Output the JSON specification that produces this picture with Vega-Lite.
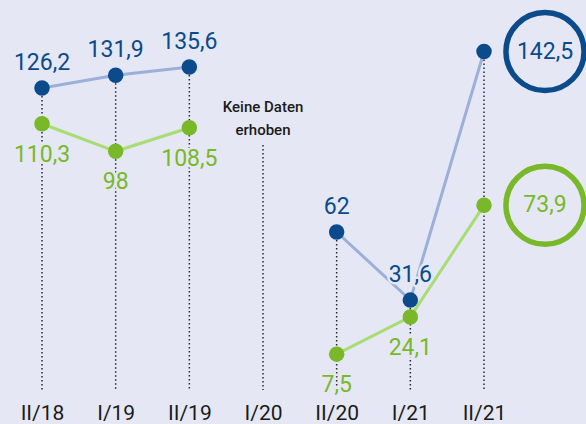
{
  "$schema": "https://vega.github.io/schema/vega-lite/v6.json",
  "width": 586,
  "height": 390,
  "autosize": "none",
  "padding": {"top": 0, "left": 0, "right": 0, "bottom": 34},
  "background": "#e5e8f4",
  "config": {"view": {"stroke": null}, "font": "Roboto"},
  "datasets": {
    "pts": [
      {"q": "II/18", "s": "blue", "seg": "a", "v": 126.2, "lab": "126,2"},
      {"q": "I/19", "s": "blue", "seg": "a", "v": 131.9, "lab": "131,9"},
      {"q": "II/19", "s": "blue", "seg": "a", "v": 135.6, "lab": "135,6"},
      {"q": "II/20", "s": "blue", "seg": "b", "v": 62, "lab": "62"},
      {"q": "I/21", "s": "blue", "seg": "b", "v": 31.6, "lab": "31,6"},
      {"q": "II/21", "s": "blue", "seg": "b", "v": 142.5, "lab": ""},
      {"q": "II/18", "s": "green", "seg": "a", "v": 110.3, "lab": "110,3"},
      {"q": "I/19", "s": "green", "seg": "a", "v": 98, "lab": "98"},
      {"q": "II/19", "s": "green", "seg": "a", "v": 108.5, "lab": "108,5"},
      {"q": "II/20", "s": "green", "seg": "b", "v": 7.5, "lab": "7,5"},
      {"q": "I/21", "s": "green", "seg": "b", "v": 24.1, "lab": "24,1"},
      {"q": "II/21", "s": "green", "seg": "b", "v": 73.9, "lab": ""}
    ],
    "rules": [
      {"q": "II/18", "top": 126.2},
      {"q": "I/19", "top": 131.9},
      {"q": "II/19", "top": 135.6},
      {"q": "I/20", "top": 100.8},
      {"q": "II/20", "top": 62},
      {"q": "I/21", "top": 31.6},
      {"q": "II/21", "top": 142.5}
    ],
    "rings": [
      {"q": "II/21", "s": "blue", "v": 142.5, "lab": "142,5"},
      {"q": "II/21", "s": "green", "v": 73.9, "lab": "73,9"}
    ],
    "note": [
      {"q": "I/20", "v": 100.8, "lab": ["Keine Daten", "erhoben"]}
    ]
  },
  "encoding": {
    "x": {
      "field": "q",
      "type": "ordinal",
      "scale": {"type": "point", "padding": 0, "domain": ["II/18", "I/19", "II/19", "I/20", "II/20", "I/21", "II/21"], "range": [42, 484]},
      "axis": {"domain": false, "ticks": false, "grid": false, "title": null, "labelFontSize": 21, "labelColor": "#1a1a1a", "labelPadding": 12, "labelFont": "Roboto", "labelAngle": 0}
    }
  },
  "layer": [
    {
      "data": {"name": "rules"},
      "mark": {"type": "rule", "color": "#2a2a2a", "strokeWidth": 1.5, "strokeDash": [1.5, 2.5]},
      "encoding": {
        "y": {"field": "top", "type": "quantitative", "scale": {"domain": [-8.5, 165.5], "nice": false, "zero": false}, "axis": null},
        "y2": {"datum": -8.5}
      }
    },
    {
      "data": {"name": "pts"},
      "transform": [{"filter": "datum.s === 'blue'"}],
      "mark": {"type": "line", "color": "#9cafd8", "strokeWidth": 3},
      "encoding": {
        "y": {"field": "v", "type": "quantitative"},
        "detail": {"field": "seg"}
      }
    },
    {
      "data": {"name": "pts"},
      "transform": [{"filter": "datum.s === 'green'"}],
      "mark": {"type": "line", "color": "#a9dc72", "strokeWidth": 3},
      "encoding": {
        "y": {"field": "v", "type": "quantitative"},
        "detail": {"field": "seg"}
      }
    },
    {
      "data": {"name": "pts"},
      "mark": {"type": "circle", "size": 240, "opacity": 1},
      "encoding": {
        "y": {"field": "v", "type": "quantitative"},
        "color": {"field": "s", "type": "nominal", "scale": {"domain": ["blue", "green"], "range": ["#0b4a8b", "#78b829"]}, "legend": null}
      }
    },
    {
      "data": {"name": "pts"},
      "transform": [{"filter": "datum.s === 'blue' && datum.lab !== ''"}],
      "mark": {"type": "text", "fontSize": 23, "dy": -25, "stroke": "#e5e8f4", "strokeWidth": 5, "color": "#e5e8f4"},
      "encoding": {"y": {"field": "v", "type": "quantitative"}, "text": {"field": "lab"}}
    },
    {
      "data": {"name": "pts"},
      "transform": [{"filter": "datum.s === 'blue' && datum.lab !== ''"}],
      "mark": {"type": "text", "fontSize": 23, "dy": -25},
      "encoding": {
        "y": {"field": "v", "type": "quantitative"},
        "text": {"field": "lab"},
        "color": {"field": "s", "type": "nominal", "legend": null}
      }
    },
    {
      "data": {"name": "pts"},
      "transform": [{"filter": "datum.s === 'green' && datum.lab !== ''"}],
      "mark": {"type": "text", "fontSize": 23, "dy": 31, "stroke": "#e5e8f4", "strokeWidth": 5, "color": "#e5e8f4"},
      "encoding": {"y": {"field": "v", "type": "quantitative"}, "text": {"field": "lab"}}
    },
    {
      "data": {"name": "pts"},
      "transform": [{"filter": "datum.s === 'green' && datum.lab !== ''"}],
      "mark": {"type": "text", "fontSize": 23, "dy": 31},
      "encoding": {
        "y": {"field": "v", "type": "quantitative"},
        "text": {"field": "lab"},
        "color": {"field": "s", "type": "nominal", "legend": null}
      }
    },
    {
      "data": {"name": "rings"},
      "mark": {"type": "point", "shape": "circle", "size": 6100, "strokeWidth": 5.5, "filled": false, "xOffset": 61, "opacity": 1},
      "encoding": {
        "y": {"field": "v", "type": "quantitative"},
        "color": {"field": "s", "type": "nominal", "legend": null}
      }
    },
    {
      "data": {"name": "rings"},
      "mark": {"type": "text", "fontSize": 23, "xOffset": 61, "baseline": "middle"},
      "encoding": {
        "y": {"field": "v", "type": "quantitative"},
        "text": {"field": "lab"},
        "color": {"field": "s", "type": "nominal", "legend": null}
      }
    },
    {
      "data": {"name": "note"},
      "mark": {"type": "text", "fontSize": 15, "fontWeight": 500, "color": "#1a1a1a", "dy": -38, "lineHeight": 23, "baseline": "middle"},
      "encoding": {
        "y": {"field": "v", "type": "quantitative"},
        "text": {"field": "lab"}
      }
    }
  ]
}
